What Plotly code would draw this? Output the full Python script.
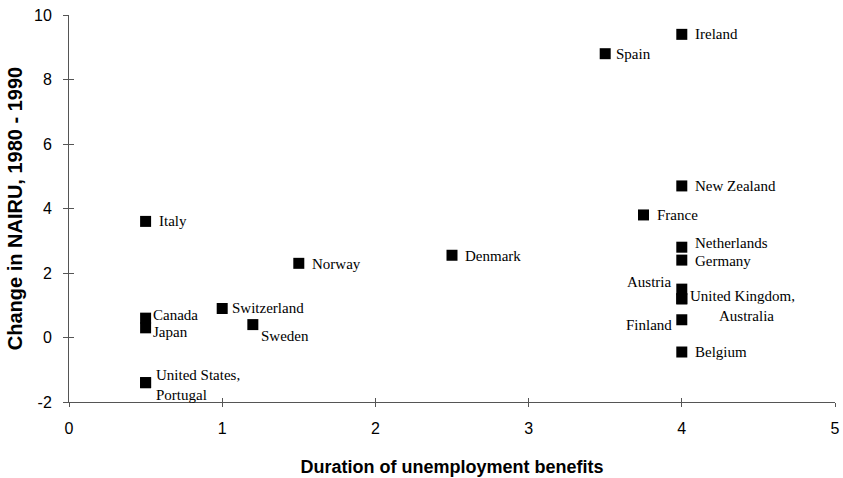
import plotly.graph_objects as go

# ---- data ----
countries = ["Ireland", "Spain", "New Zealand", "France", "Netherlands", "Germany",
             "Austria", "United Kingdom", "Australia", "Finland", "Belgium", "Italy",
             "Norway", "Denmark", "Switzerland", "Sweden", "Canada", "Japan",
             "United States", "Portugal"]
duration = [4.0, 3.5, 4.0, 3.75, 4.0, 4.0, 4.0, 4.0, 4.0, 4.0, 4.0, 0.5,
            1.5, 2.5, 1.0, 1.2, 0.5, 0.5, 0.5, 0.5]
nairu_change = [9.4, 8.8, 4.7, 3.8, 2.8, 2.4, 1.5, 1.2, 1.2, 0.55, -0.45, 3.6,
                2.3, 2.55, 0.9, 0.4, 0.6, 0.3, -1.4, -1.4]
label_text = {"United Kingdom": "United Kingdom,", "United States": "United States,"}
x_ticks = [0, 1, 2, 3, 4, 5]
y_ticks = [-2, 0, 2, 4, 6, 8, 10]
y_tick_text = ["-2", "0", "2", "4", "6", "8", "10"]

# ---- label placement (pixel offsets from marker, anchor) ----
label_style = {
    "Ireland": (11, 0, "left"), "Spain": (9, 0, "left"), "New Zealand": (11, 0, "left"),
    "France": (11, 0, "left"), "Netherlands": (11, 4, "left"), "Germany": (11, -1, "left"),
    "Austria": (-8, 7, "right"), "United Kingdom": (6, 3, "left"),
    "Australia": (35, -17, "left"), "Finland": (-8, -5, "right"),
    "Belgium": (11, 0, "left"), "Italy": (11, 0, "left"), "Norway": (11, -1, "left"),
    "Denmark": (11, -1, "left"), "Switzerland": (8, 0, "left"), "Sweden": (6, -11, "left"),
    "Canada": (5, 3, "left"), "Japan": (5, -4, "left"),
    "United States": (8, 8, "left"), "Portugal": (8, -12, "left"),
}

fig = go.Figure()
fig.add_trace(go.Scatter(
    x=duration, y=nairu_change, mode="markers",
    marker=dict(symbol="square", size=11, color="black"),
    hovertext=countries, showlegend=False,
))
# invisible trace on overlay axes (used only to draw the inward half of the ticks)
fig.add_trace(go.Scatter(x=[None], y=[None], xaxis="x2", yaxis="y2",
                         mode="markers", showlegend=False, hoverinfo="skip"))

serif = "Times New Roman, Liberation Serif, serif"
for c, xv, yv in zip(countries, duration, nairu_change):
    dx, dy, anchor = label_style[c]
    fig.add_annotation(
        x=xv, y=yv, text=label_text.get(c, c), showarrow=False,
        xanchor=anchor, yanchor="middle", xshift=dx, yshift=dy,
        font=dict(family=serif, size=15, color="black"),
    )

sans = "Arial, Liberation Sans, sans-serif"
axcol = "#555"
fig.update_layout(
    width=843, height=478,
    margin=dict(l=69, r=8, t=15, b=76),
    paper_bgcolor="white", plot_bgcolor="white",
    font=dict(family=sans, size=16, color="black"),
    xaxis=dict(
        range=[0, 5], tickvals=x_ticks, showgrid=False, zeroline=False,
        showline=True, linecolor=axcol, linewidth=1, automargin=False,
        ticks="outside", ticklen=4, tickcolor=axcol, ticklabelstandoff=8,
        ticklabeloverflow="allow", tickfont=dict(size=16),
        title=dict(text="<b>Duration of unemployment benefits</b>",
                   font=dict(family=sans, size=18), standoff=24),
    ),
    yaxis=dict(
        range=[-2, 10], tickvals=y_ticks, ticktext=y_tick_text, showgrid=False,
        zeroline=False, showline=True, linecolor=axcol, linewidth=1, automargin=False,
        ticks="outside", ticklen=5, tickcolor=axcol, ticklabelstandoff=8,
        ticklabeloverflow="allow", tickfont=dict(size=16),
        title=dict(text="<b>Change in NAIRU, 1980 - 1990</b>",
                   font=dict(family=sans, size=20), standoff=6),
    ),
    xaxis2=dict(
        range=[0, 5], tickvals=x_ticks, overlaying="x", anchor="y2", side="bottom",
        showgrid=False, zeroline=False, showline=False, showticklabels=False,
        ticks="inside", ticklen=4, tickcolor=axcol, automargin=False,
    ),
    yaxis2=dict(
        range=[-2, 10], tickvals=y_ticks, overlaying="y", anchor="x2", side="left",
        showgrid=False, zeroline=False, showline=False, showticklabels=False,
        ticks="inside", ticklen=5, tickcolor=axcol, automargin=False,
    ),
)

# remove the default 8px page margin so the figure fills the window exactly
fig.write_html("out.html",
               config={"displayModeBar": False},
               post_script="document.body.style.margin='0';"
                           "document.body.style.overflow='hidden';")
